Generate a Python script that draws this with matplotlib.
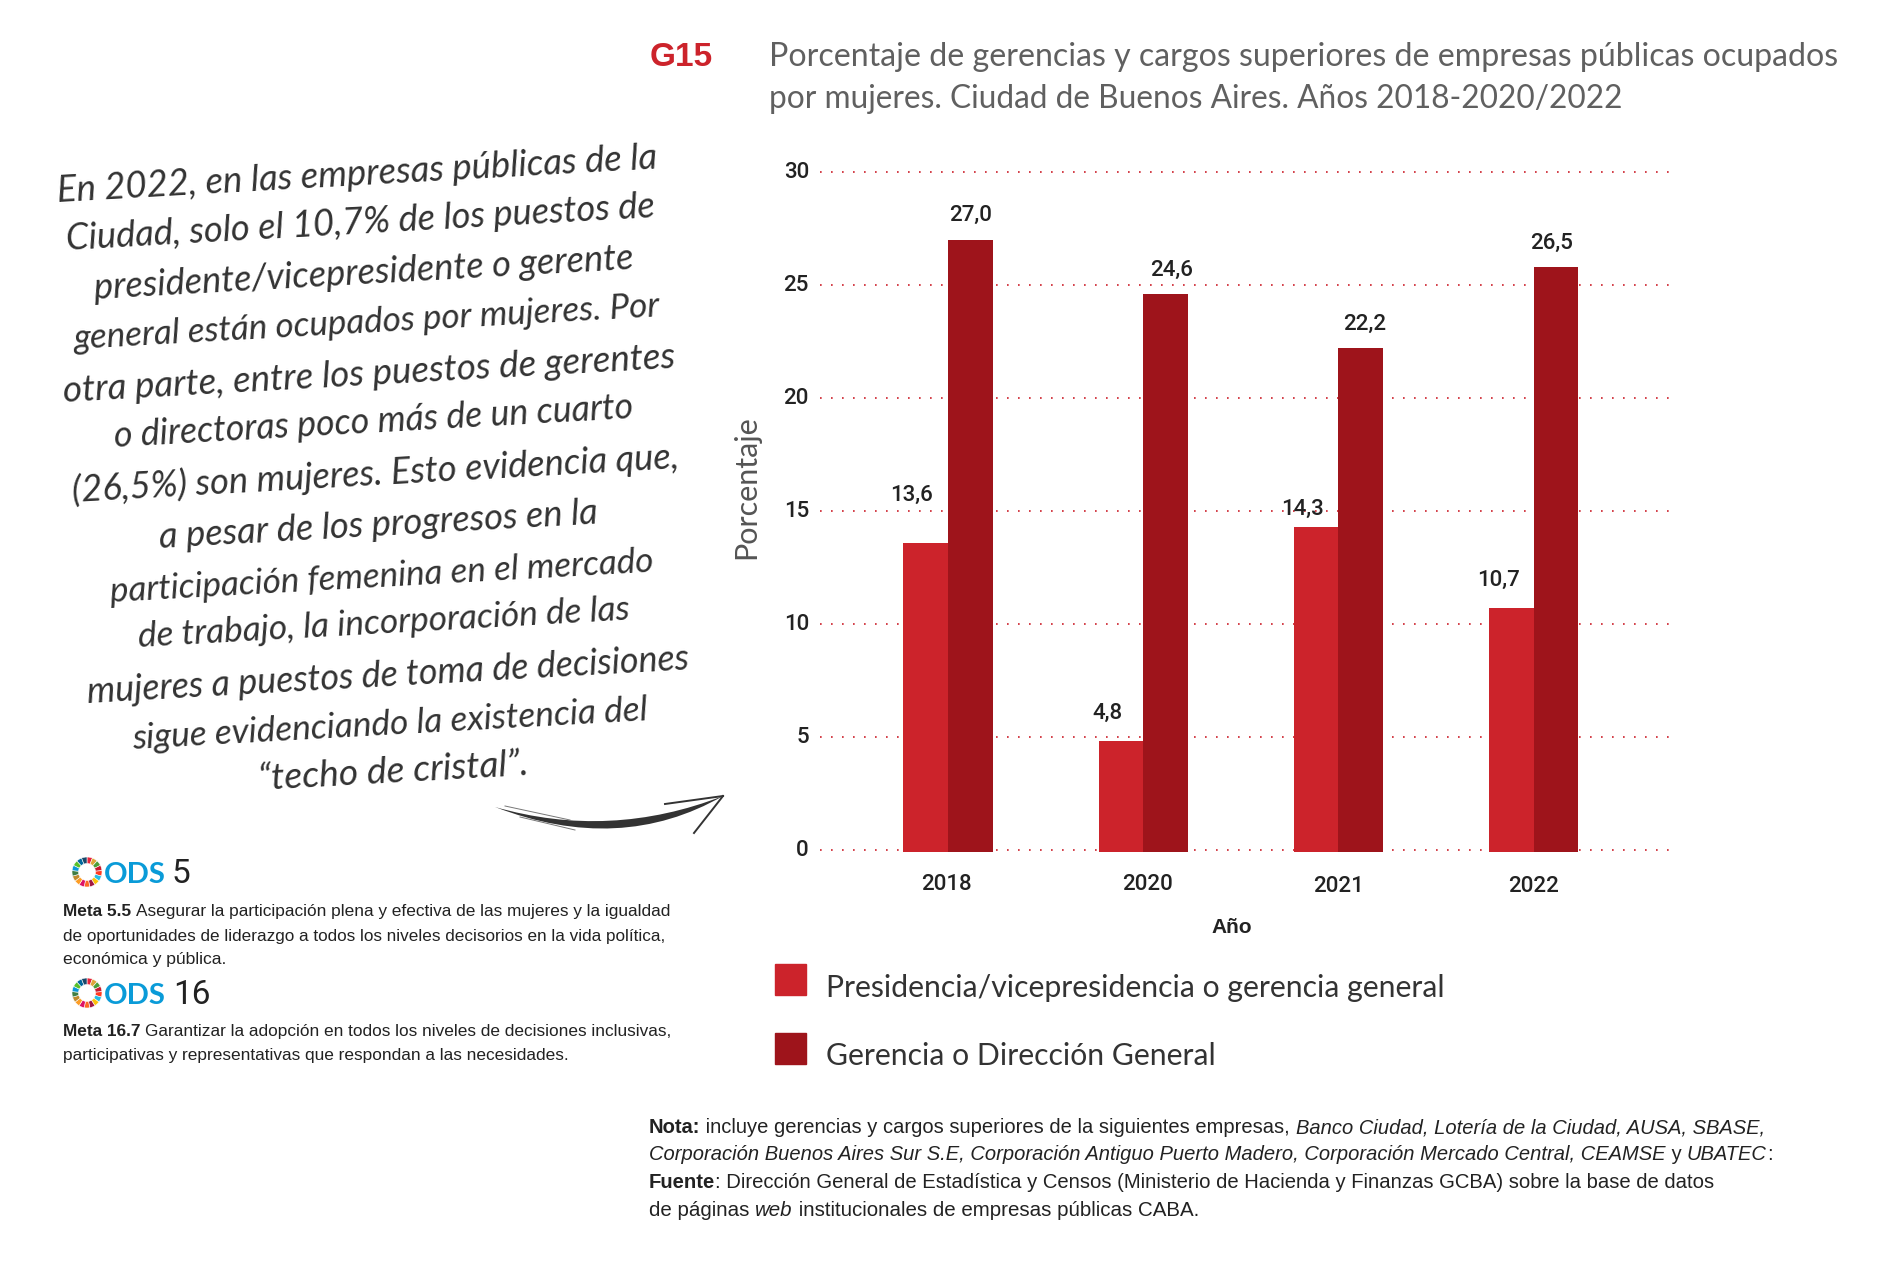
import numpy as np
import matplotlib
matplotlib.use("Agg")
import matplotlib.pyplot as plt
from matplotlib.patches import Wedge, PathPatch, Rectangle
from matplotlib.path import Path
from matplotlib.transforms import ScaledTranslation
from matplotlib.legend_handler import HandlerPatch

# datos
anios = ["2018", "2020", "2021", "2022"]
presidencia = [13.6, 4.8, 14.3, 10.7]
gerencia = [27.0, 24.6, 22.2, 25.8]  # la barra de 2022 esta dibujada en 25,8 aunque la etiqueta dice 26,5
etiq_presidencia = ["13,6", "4,8", "14,3", "10,7"]
etiq_gerencia = ["27,0", "24,6", "22,2", "26,5"]
series = ["Presidencia/vicepresidencia o gerencia general", "Gerencia o Dirección General"]

ROJO = "#cc232b"
GRANATE = "#9e141b"
W, H = 1881, 1272
LATO = ["Lato", "DejaVu Sans"]
LIB = ["Liberation Sans", "DejaVu Sans"]
NUM = ["Roboto", "Liberation Sans", "DejaVu Sans"]

fig = plt.figure(figsize=(W / 100, H / 100), dpi=100, facecolor="white")
renderer = fig.canvas.get_renderer()

# eje del grafico, ubicado en pixeles
left, right, top, bottom = 820, 1675, 167.5, 852
ax = fig.add_axes([left / W, 1 - bottom / H, (right - left) / W, (bottom - top) / H])
piso = -0.09
ax.set_xlim(-0.656, 3.724)
ax.set_ylim(piso, 30.2)
x = np.arange(len(anios))
ancho = 0.229
ax.bar(x - ancho / 2, np.array(presidencia) - piso, ancho, bottom=piso, color=ROJO, zorder=3)
ax.bar(x + ancho / 2, np.array(gerencia) - piso, ancho, bottom=piso, color=GRANATE, zorder=3)
for s in ax.spines.values():
    s.set_visible(False)
ax.set_yticks(range(0, 31, 5))
ax.yaxis.grid(True, color="#cc1f2a", lw=1.2, linestyle=(0, (1, 5.6)), zorder=1)
ax.tick_params(axis="both", length=0)
ax.tick_params(axis="y", pad=8, labelsize=16, labelcolor="#222222")
sube = ScaledTranslation(0, 2 / 100, fig.dpi_scale_trans)
for t in ax.get_yticklabels():
    t.set_family(NUM)
    t.set_weight("medium")
    t.set_transform(t.get_transform() + sube)

ax.set_xticks([-0.01, 1.02, 2.0, 3.0])
ax.set_xticklabels(anios, fontsize=16, color="#222222", family=NUM, weight="medium")
for tick, pad in zip(ax.xaxis.get_major_ticks(), [16, 16, 17, 17]):
    tick.set_pad(pad)
ax.set_xlabel("Año", fontsize=15, weight="bold", color="#222222", family=LIB)
ax.xaxis.set_label_coords((1232 - left) / (right - left), -(918 - bottom) / (bottom - top))
ax.set_ylabel("Porcentaje", fontsize=22, color="#555555", family=LATO)
ax.yaxis.set_label_coords(-(left - 760) / (right - left), (bottom - 487) / (bottom - top))

# etiquetas de las barras, con el desplazamiento que tienen en el original (pixeles)
desp_p = [(-14, 47), (-13, 28), (-14, 17), (-13, 28)]
desp_g = [(0, 24), (6, 24), (4, 24), (-4, 24)]
for i in range(len(anios)):
    ax.annotate(etiq_presidencia[i], (x[i] - ancho / 2, presidencia[i]), xytext=desp_p[i], textcoords="offset pixels",
                ha="center", va="center", fontsize=16, color="#222222", family=NUM, weight="medium", zorder=5)
    ax.annotate(etiq_gerencia[i], (x[i] + ancho / 2, gerencia[i]), xytext=desp_g[i], textcoords="offset pixels",
                ha="center", va="center", fontsize=16, color="#222222", family=NUM, weight="medium", zorder=5)


# leyenda: los cuadros quedan algo mas arriba que el texto
def cuadro(legend, orig_handle, xdescent, ydescent, width, height, fontsize):
    return Rectangle((-xdescent, -ydescent + 3.6), 22.3, 22.3)


h1 = Rectangle((0, 0), 1, 1, color=ROJO)
h2 = Rectangle((0, 0), 1, 1, color=GRANATE)
leg = fig.legend([h1, h2], series, loc="upper left", bbox_to_anchor=(775 / W, 1 - 973 / H), bbox_transform=fig.transFigure,
                 frameon=False, borderaxespad=0, borderpad=0, handlelength=1.03, handleheight=1.0,
                 handletextpad=0.66, labelspacing=1.32, labelcolor="#333333", prop={"family": LATO, "size": 21.7},
                 handler_map={Rectangle: HandlerPatch(patch_func=cuadro)})

# capa en pixeles para los textos sueltos
ov = fig.add_axes([0, 0, 1, 1], facecolor="none")
ov.set_xlim(0, W)
ov.set_ylim(H, 0)
ov.axis("off")


def medir(txt, size, **kw):
    # las x evitan que se pierdan los espacios al medir
    a = ov.text(0, 0, "x" + txt + "x", fontsize=size, **kw)
    b = ov.text(0, 0, "xx", fontsize=size, **kw)
    w = a.get_window_extent(renderer).width - b.get_window_extent(renderer).width
    a.remove()
    b.remove()
    return w


def texto(x0, x1, y, partes, color, family):
    # partes: lista de (texto, weight, style); ajusta el tamano al ancho x0-x1
    base = 20
    total = sum(medir(t, base, family=family, weight=w, style=st) for t, w, st in partes)
    size = base * (x1 - x0) / total
    cur = x0
    for t, w, st in partes:
        ov.text(cur, y, t, fontsize=size, family=family, weight=w, style=st, color=color, va="baseline", ha="left")
        cur += medir(t, size, family=family, weight=w, style=st)


ov.text(650, 66, "G15", fontsize=24, weight="bold", color=ROJO, family=LIB, va="baseline")
texto(769, 1840, 66, [("Porcentaje de gerencias y cargos superiores de empresas públicas ocupados", "normal", "normal")], "#606060", LATO)
texto(769, 1624, 108, [("por mujeres. Ciudad de Buenos Aires. Años 2018-2020/2022", "normal", "normal")], "#606060", LATO)

# texto manuscrito
manuscrito = [
    ("En 2022, en las empresas públicas de la", 47, 548, 146),
    ("Ciudad, solo el 10,7% de los puestos de", 55, 545, 186),
    ("presidente/vicepresidente o gerente", 78, 528, 228),
    ("general están ocupados por mujeres. Por", 62, 550, 269),
    ("otra parte, entre los puestos de gerentes", 53, 562, 312),
    ("o directoras poco más de un cuarto", 95, 527, 352),
    ("(26,5%) son mujeres. Esto evidencia que,", 60, 565, 395),
    ("a pesar de los progresos en la", 132, 498, 438),
    ("participación femenina en el mercado", 92, 545, 481),
    ("de trabajo, la incorporación de las", 115, 525, 519),
    ("mujeres a puestos de toma de decisiones", 72, 574, 563),
    ("sigue evidenciando la existencia del", 110, 540, 604),
    ("“techo de cristal”.", 215, 440, 643),
]
for linea, x0, x1, yc in manuscrito:
    w = medir(linea, 20, family=LATO, style="italic")
    size = 20 * (x1 - x0) * 1.2 / w
    ov.text((x0 + x1) / 2 * 1.2, yc * 1.2, linea, fontsize=size, family=LATO, style="italic", color="#333333",
            rotation=3.2, rotation_mode="anchor", ha="center", va="center")

# flecha
trazo = Path([(495, 807), (620, 855), (723, 796), (610, 840), (495, 807)],
             [Path.MOVETO, Path.CURVE3, Path.CURVE3, Path.CURVE3, Path.CURVE3])
ov.add_patch(PathPatch(trazo, facecolor="#333333", edgecolor="none"))
ov.plot([505, 570], [806, 820], color="#777777", lw=0.7)
ov.plot([520, 575], [817, 830], color="#777777", lw=0.7)
ov.plot([723, 665], [796, 804], color="#333333", lw=1.4)
ov.plot([723, 694], [796, 833], color="#333333", lw=1.4)

# ODS
colores_ods = ["#E5243B", "#DDA63A", "#4C9F38", "#C5192D", "#FF3A21", "#26BDE2", "#FCC30B", "#A21942", "#FD6925",
               "#DD1367", "#FD9D24", "#BF8B2E", "#3F7E44", "#0A97D9", "#56C02B", "#00689D", "#19486A"]


def ods(yc, numero, xnum):
    paso = 360 / len(colores_ods)
    for k, c in enumerate(colores_ods):
        ov.add_patch(Wedge((87, yc), 15, -90 + k * paso, -90 + (k + 1) * paso, width=6.5, facecolor=c, edgecolor="white", lw=0.4))
    texto(104, 166, yc + 11, [("ODS", "bold", "normal")], "#0a9bd8", LATO)
    ov.text(xnum, yc + 11, numero, fontsize=24, color="#222222", family=NUM, va="baseline")


ods(872, "5", 172)
ods(993, "16", 173)

texto(63, 669, 916, [("Meta 5.5 ", "bold", "normal"), ("Asegurar la participación plena y efectiva de las mujeres y la igualdad", "normal", "normal")], "#222222", LIB)
texto(63, 663, 941, [("de oportunidades de liderazgo a todos los niveles decisorios en la vida política,", "normal", "normal")], "#222222", LIB)
texto(63, 226, 964, [("económica y pública.", "normal", "normal")], "#222222", LIB)
texto(63, 669, 1036, [("Meta 16.7 ", "bold", "normal"), ("Garantizar la adopción en todos los niveles de decisiones inclusivas,", "normal", "normal")], "#222222", LIB)
texto(63, 567, 1060, [("participativas y representativas que respondan a las necesidades.", "normal", "normal")], "#222222", LIB)

# nota y fuente
texto(649, 1758, 1133, [("Nota:", "bold", "normal"), (" incluye gerencias y cargos superiores de la siguientes empresas, ", "normal", "normal"),
                        ("Banco Ciudad, Lotería de la Ciudad, AUSA, SBASE,", "normal", "italic")], "#222222", LIB)
texto(649, 1765, 1160, [("Corporación Buenos Aires Sur S.E, Corporación Antiguo Puerto Madero, Corporación Mercado Central, CEAMSE", "normal", "italic"),
                        (" y ", "normal", "normal"), ("UBATEC", "normal", "italic"), (":", "normal", "normal")], "#222222", LIB)
texto(649, 1712, 1188, [("Fuente", "bold", "normal"), (": Dirección General de Estadística y Censos (Ministerio de Hacienda y Finanzas GCBA) sobre la base de datos", "normal", "normal")], "#222222", LIB)
texto(649, 1199, 1216, [("de páginas ", "normal", "normal"), ("web", "normal", "italic"), (" institucionales de empresas públicas CABA.", "normal", "normal")], "#222222", LIB)

fig.savefig("out.png", dpi=100, facecolor="white")
